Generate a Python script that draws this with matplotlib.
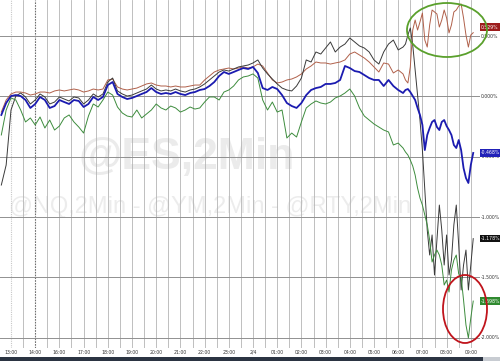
import matplotlib
matplotlib.use("Agg")
import matplotlib.pyplot as plt
from matplotlib.patches import Ellipse, Rectangle
import numpy as np

# time axis in chart hours (13:00 = 0, one slot per hour, 15:00 gap removed)
t = np.concatenate([np.round(np.arange(-0.4, 16.21, 0.2), 1),
                    np.round(np.arange(16.3, 19.11, 0.1), 1)])

hour_labels = ['13:00', '14:00', '16:00', '17:00', '18:00', '19:00', '20:00',
               '21:00', '22:00', '23:00', '2/4', '01:00', '02:00', '03:00',
               '04:00', '05:00', '06:00', '07:00', '08:00', '09:00']

# % change, ES (blue)
es = [-0.153, -0.054, 0.004, 0.012, 0.004, -0.029, -0.095, -0.062, -0.004, -0.029,
      -0.095, -0.079, -0.029, -0.046, -0.062, -0.029, -0.037, -0.087, -0.062, -0.004,
      -0.029, -0.004, 0.095, 0.120, 0.021, -0.004, -0.021, -0.012, 0.004, 0.021,
      0.037, 0.070, 0.037, 0.021, 0.029, 0.021, 0.037, 0.021, 0.012, 0.029,
      0.037, 0.054, 0.062, 0.087, 0.120, 0.170, 0.203, 0.187, 0.203, 0.220,
      0.236, 0.228, 0.245, 0.195, 0.070, 0.054, 0.079, 0.062, 0.012, -0.054,
      -0.079, -0.095, -0.054, 0.012, 0.054, 0.070, 0.079, 0.104, 0.104, 0.112,
      0.137, 0.253, 0.236, 0.211, 0.203, 0.178, 0.153, 0.137, 0.137, 0.087,
      0.137, 0.087, 0.054, 0.029,
      0.054, 0.062, 0.037, 0.004, -0.029, -0.095, -0.153, -0.236, -0.444, -0.319,
      -0.261, -0.211, -0.195, -0.253, -0.278, -0.211, -0.195, -0.245, -0.278, -0.319,
      -0.402, -0.427, -0.361, -0.444, -0.593, -0.676, -0.717, -0.568, -0.468]

# NQ (black)
nq = [-0.734, -0.568, -0.112, 0.004, 0.029, -0.004, -0.062, -0.029, 0.021, -0.004,
      -0.062, -0.046, -0.004, -0.021, -0.037, -0.004, -0.012, -0.062, -0.029, 0.021,
      -0.004, 0.021, 0.120, 0.153, 0.046, 0.021, 0.004, 0.012, 0.029, 0.046,
      0.062, 0.095, 0.062, 0.046, 0.054, 0.046, 0.062, 0.046, 0.037, 0.054,
      0.062, 0.079, 0.104, 0.137, 0.170, 0.203, 0.220, 0.211, 0.228, 0.245,
      0.253, 0.261, 0.278, 0.303, 0.236, 0.187, 0.145, 0.104, 0.070, 0.054,
      0.046, 0.087, 0.153, 0.303, 0.286, 0.369, 0.352, 0.402, 0.452, 0.369,
      0.410, 0.435, 0.485, 0.452, 0.419, 0.402, 0.369, 0.303, 0.269, 0.369,
      0.435, 0.468, 0.386, 0.410,
      0.435, 0.510, 0.568, 0.427, 0.220, 0.012, -0.195, -0.444, -0.775, -1.107,
      -1.314, -1.148, -1.480, -1.190, -0.900, -1.107, -1.397, -1.148, -1.480, -1.356,
      -1.065, -0.900, -1.231, -1.604, -1.397, -1.273, -1.604, -1.397, -1.178]

# YM (brown)
ym = [-0.129, -0.029, 0.021, 0.037, 0.037, 0.029, 0.012, 0.021, 0.037, 0.037,
      0.029, 0.046, 0.054, 0.046, 0.054, 0.062, 0.054, 0.037, 0.046, 0.062,
      0.054, 0.062, 0.137, 0.145, 0.079, 0.062, 0.054, 0.062, 0.070, 0.087,
      0.104, 0.112, 0.095, 0.087, 0.087, 0.079, 0.087, 0.079, 0.079, 0.087,
      0.095, 0.095, 0.137, 0.170, 0.203, 0.220, 0.228, 0.236, 0.228, 0.236,
      0.245, 0.236, 0.245, 0.269, 0.253, 0.195, 0.137, 0.112, 0.120, 0.137,
      0.145, 0.162, 0.187, 0.228, 0.253, 0.286, 0.278, 0.278, 0.269, 0.278,
      0.286, 0.303, 0.352, 0.369, 0.344, 0.319, 0.286, 0.245, 0.203, 0.278,
      0.269, 0.195, 0.220, 0.187,
      0.137, 0.112, 0.245, 0.551, 0.634, 0.551, 0.618, 0.692, 0.468, 0.410,
      0.593, 0.717, 0.701, 0.684, 0.576, 0.634, 0.717, 0.651, 0.527, 0.593,
      0.701, 0.717, 0.750, 0.767, 0.651, 0.510, 0.410, 0.510, 0.529]

# RTY (green)
rty = [-0.319, -0.112, -0.012, -0.029, -0.112, -0.211, -0.178, -0.236, -0.170, -0.261,
       -0.195, -0.278, -0.245, -0.178, -0.153, -0.211, -0.253, -0.303, -0.162, -0.062,
       -0.087, -0.029, 0.037, 0.012, -0.087, -0.137, -0.162, -0.170, -0.112, -0.178,
       -0.145, -0.112, -0.062, -0.095, -0.112, -0.079, -0.095, -0.129, -0.112, -0.087,
       -0.104, -0.095, -0.046, -0.004, -0.004, -0.029, 0.037, 0.054, 0.087, 0.137,
       0.162, 0.170, 0.187, 0.153, -0.029, -0.112, -0.046, -0.129, -0.112, -0.344,
       -0.303, -0.336, -0.211, -0.095, -0.062, -0.037, -0.054, -0.062, -0.046, -0.012,
       0.004, 0.029, 0.062, 0.004, -0.095, -0.162, -0.195, -0.228, -0.253, -0.278,
       -0.294, -0.402, -0.386, -0.427,
       -0.460, -0.485, -0.527, -0.576, -0.651, -0.759, -0.842, -0.900, -0.983, -1.065,
       -1.190, -1.372, -1.314, -1.273, -1.314, -1.397, -1.563, -1.522, -1.621, -1.439,
       -1.356, -1.314, -1.471, -1.497, -1.687, -1.894, -2.002, -1.836, -1.696]

y_levels = [0.5, 0.0, -0.5, -1.0, -1.5, -2.0]
y_labels = ['0.500%', '0.000%', '-0.500%', '-1.000%', '-1.500%', '-2.000%']

# last-value tags (label, position, colour)
tags = [('0.529%', 0.576, '#9c1c1c'), ('-0.468%', -0.468, '#2121b8'),
        ('-1.178%', -1.178, '#111111'), ('-1.698%', -1.696, '#2f8a2f')]

fig = plt.figure(figsize=(5, 3.61), dpi=100)
ax = fig.add_axes([0, 13/361, 480/500, 348/361])
ax.set_xlim(-0.4545, 19.38)
ax.set_ylim(-2.085, 0.80)
for s in ax.spines.values():
    s.set_visible(False)
ax.set_yticks([])

# watermark
ax.text(0.388, 0.515, '@ES,2Min', transform=ax.transAxes, ha='center', va='baseline',
        fontsize=32, fontweight='bold', color='#ebebeb', family='Liberation Sans', zorder=0)
ax.text(0.438, 0.388, '@NQ,2Min - @YM,2Min - @RTY,2Min', transform=ax.transAxes,
        ha='center', va='baseline', fontsize=17, color='#ececec',
        family='Liberation Sans', zorder=0)

# grid
for g in np.arange(0.5, 19.6, 0.5):
    if g == 1.0:
        ax.axvline(g, color='#707070', lw=0.8, ls=(0, (1.5, 1)), zorder=1)
    else:
        ax.axvline(g, color='#b4b4b4', lw=0.6, zorder=1)
ax.axvline(0, color='#c8c8c8', lw=0.8, ls=(0, (1, 1)), zorder=1)
for v in y_levels:
    ax.axhline(v, color='#909090', lw=0.7, zorder=1)

ax.plot(t, ym, color='#b0604a', lw=0.7, zorder=3)
ax.plot(t, nq, color='#3a3a3a', lw=0.7, zorder=3)
ax.plot(t, rty, color='#3d8c3d', lw=0.7, zorder=3)
ax.plot(t, es, color='#1b1bb0', lw=1.3, zorder=4)

ax.set_xticks(range(len(hour_labels)))
ax.set_xticklabels(hour_labels)
ax.tick_params(axis='x', length=0, pad=1.2, labelsize=3.3, labelcolor='#333333')

trans = ax.get_yaxis_transform()
for v, lbl in zip(y_levels, y_labels):
    ax.text(1.002, v, lbl, transform=trans, fontsize=3.3, color='#333333',
            va='center', ha='left', clip_on=False)
for lbl, v, c in tags:
    ax.text(1.002, v, lbl, transform=trans, fontsize=3.3, color='white', va='center',
            ha='left', clip_on=False, zorder=6,
            bbox=dict(boxstyle='square,pad=0.3', fc=c, ec='none'))

# highlight ellipses
fig.add_artist(Ellipse((447/500, 1 - 30/361), 80/500, 54/361, transform=fig.transFigure,
                       fill=False, ec='#5aa02c', lw=1.3, zorder=5))
fig.add_artist(Ellipse((465/500, 1 - 309/361), 44/500, 68/361, transform=fig.transFigure,
                       fill=False, ec='#c0141c', lw=1.3, zorder=5))

# bottom bar
fig.add_artist(Rectangle((0, 0), 483/500, 4/361, transform=fig.transFigure,
                         fc='#2b3442', ec='none'))
fig.add_artist(Rectangle((483/500, 0), 17/500, 4/361, transform=fig.transFigure,
                         fc='#c8ccd2', ec='none'))

fig.savefig('out.png', dpi=100)
